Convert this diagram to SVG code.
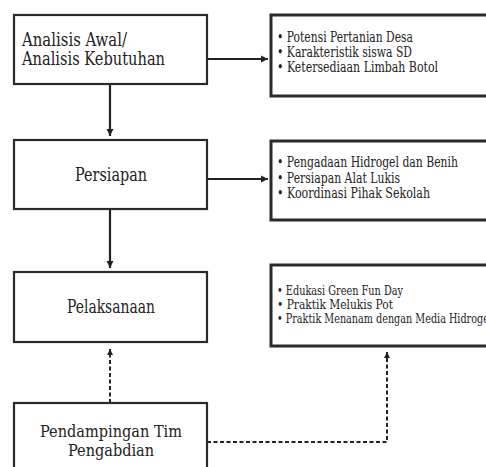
<svg xmlns="http://www.w3.org/2000/svg" width="486" height="467" viewBox="0 0 486 467">
<style>
.box{fill:#fff;stroke:#2a2a2a;stroke-width:2.2}
.rbox{fill:#fff;stroke:#2a2a2a;stroke-width:3}
.c{fill:none;stroke:#222;stroke-width:2.2}
.d{fill:none;stroke:#222;stroke-width:2;stroke-dasharray:4 2.5}
</style>
<defs>
<marker id="ah" viewBox="0 0 10 10" refX="10" refY="5" markerWidth="3.2" markerHeight="3.2" orient="auto" markerUnits="strokeWidth">
<path d="M0,0 L10,5 L0,10 z" fill="#222"/>
</marker>
</defs>
<g id="connectors">
<line class="c" x1="207" y1="59" x2="268" y2="59" marker-end="url(#ah)"/>
<line class="c" x1="110" y1="84" x2="110" y2="136" marker-end="url(#ah)"/>
<line class="c" x1="207" y1="179" x2="268" y2="179" marker-end="url(#ah)"/>
<line class="c" x1="110" y1="209" x2="110" y2="268" marker-end="url(#ah)"/>
<line class="d" x1="110" y1="403" x2="110" y2="349" marker-end="url(#ah)"/>
<polyline class="d" points="207,442 387,442 387,352" marker-end="url(#ah)"/>
</g>
<g font-family="DejaVu Serif, Liberation Serif, serif" fill="#222">
<g id="n1" font-size="18">
<rect class="box" x="14" y="15" width="193" height="69"/>
<text x="22" y="46" textLength="105" lengthAdjust="spacingAndGlyphs">Analisis Awal/</text>
<text x="22" y="65" textLength="143" lengthAdjust="spacingAndGlyphs">Analisis Kebutuhan</text>
</g>
<g id="n2" font-size="14">
<rect class="rbox" x="271" y="15" width="230" height="81"/>
<text x="277" y="42" textLength="136" lengthAdjust="spacingAndGlyphs">• Potensi Pertanian Desa</text>
<text x="277" y="57" textLength="135" lengthAdjust="spacingAndGlyphs">• Karakteristik siswa SD</text>
<text x="277" y="72" textLength="161" lengthAdjust="spacingAndGlyphs">• Ketersediaan Limbah Botol</text>
</g>
<g id="n3" font-size="18">
<rect class="box" x="14" y="140" width="193" height="69"/>
<text x="75" y="181" textLength="72" lengthAdjust="spacingAndGlyphs">Persiapan</text>
</g>
<g id="n4" font-size="14">
<rect class="rbox" x="271" y="141" width="230" height="79"/>
<text x="277" y="167" textLength="181" lengthAdjust="spacingAndGlyphs">• Pengadaan Hidrogel dan Benih</text>
<text x="277" y="182.5" textLength="123" lengthAdjust="spacingAndGlyphs">• Persiapan Alat Lukis</text>
<text x="277" y="198" textLength="153" lengthAdjust="spacingAndGlyphs">• Koordinasi Pihak Sekolah</text>
</g>
<g id="n5" font-size="18">
<rect class="box" x="14" y="272" width="193" height="70"/>
<text x="67" y="313" textLength="88" lengthAdjust="spacingAndGlyphs">Pelaksanaan</text>
</g>
<g id="n6" font-size="12">
<rect class="rbox" x="271" y="265" width="230" height="81"/>
<text x="277" y="295" textLength="126" lengthAdjust="spacingAndGlyphs">• Edukasi Green Fun Day</text>
<text x="277" y="309" textLength="116" lengthAdjust="spacingAndGlyphs">• Praktik Melukis Pot</text>
<text x="277" y="323" textLength="215" lengthAdjust="spacingAndGlyphs">• Praktik Menanam dengan Media Hidrogel</text>
</g>
<g id="n7" font-size="16">
<rect class="box" x="14" y="403" width="193" height="80"/>
<text x="40" y="437" textLength="142" lengthAdjust="spacingAndGlyphs">Pendampingan Tim</text>
<text x="68" y="456" textLength="86" lengthAdjust="spacingAndGlyphs">Pengabdian</text>
</g>
</g>
</svg>
